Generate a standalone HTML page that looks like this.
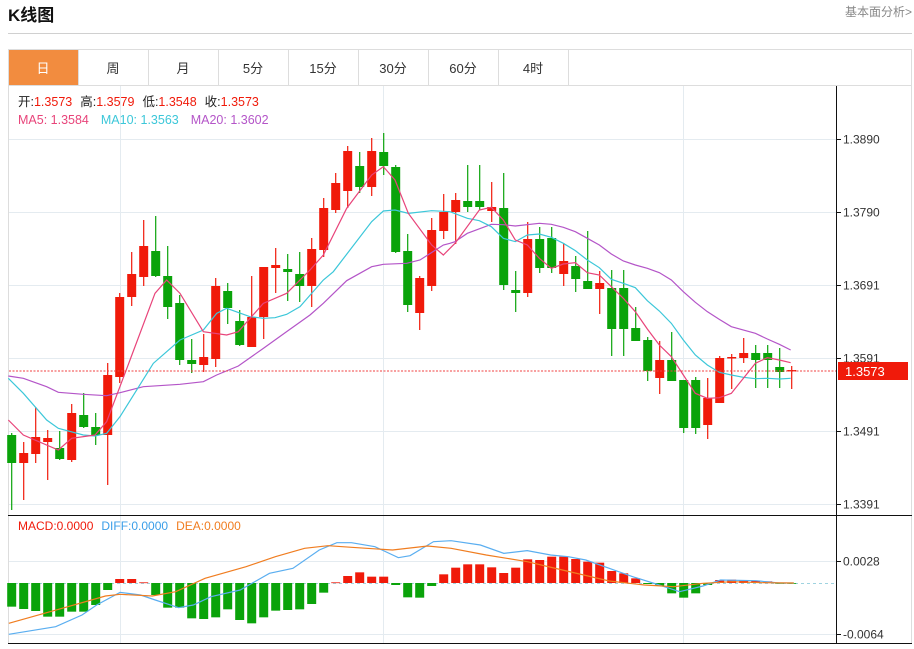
<!DOCTYPE html>
<html><head><meta charset="utf-8"><style>
body{margin:0;background:#fff;width:914px;height:649px;overflow:hidden;font-family:"Liberation Sans","Noto Sans CJK SC",sans-serif;}
svg{position:absolute;left:0;top:0}
</style></head><body>
<svg id="s" width="914" height="649" xmlns="http://www.w3.org/2000/svg" font-family="Liberation Sans, Noto Sans CJK SC, sans-serif">
<text x="8" y="21" font-size="17" font-weight="bold" fill="#111">K线图</text>
<text x="912" y="16" font-size="12" fill="#888" text-anchor="end">基本面分析&gt;</text>
<line x1="8" y1="33.5" x2="912" y2="33.5" stroke="#d0d0d0"/>
<rect x="8.5" y="49.5" width="903" height="36" fill="#fff" stroke="#ddd"/>
<rect x="9" y="50" width="69" height="35" fill="#f28c3f"/>
<g stroke="#ddd"><line x1="78.5" y1="50" x2="78.5" y2="85"/><line x1="148.5" y1="50" x2="148.5" y2="85"/><line x1="218.5" y1="50" x2="218.5" y2="85"/><line x1="288.5" y1="50" x2="288.5" y2="85"/><line x1="358.5" y1="50" x2="358.5" y2="85"/><line x1="428.5" y1="50" x2="428.5" y2="85"/><line x1="498.5" y1="50" x2="498.5" y2="85"/><line x1="568.5" y1="50" x2="568.5" y2="85"/></g>
<g font-size="13" text-anchor="middle" fill="#333"><text x="43" y="73" fill="#fff">日</text><text x="113" y="73">周</text><text x="183" y="73">月</text><text x="253" y="73">5分</text><text x="323" y="73">15分</text><text x="393" y="73">30分</text><text x="463" y="73">60分</text><text x="533" y="73">4时</text></g>
<line x1="8.5" y1="86" x2="8.5" y2="643" stroke="#ddd"/>
<line x1="911.5" y1="86" x2="911.5" y2="643" stroke="#ddd"/>
<g id="grid" stroke="#e4ebf0"></g>
<g id="c"></g>
<line x1="836.5" y1="86" x2="836.5" y2="643" stroke="#111"/>
<line x1="8" y1="515.5" x2="912" y2="515.5" stroke="#111"/>
<line x1="8" y1="643.5" x2="912" y2="643.5" stroke="#111"/>
<g id="ax" font-size="12" fill="#333"></g>
<line x1="9" y1="371" x2="836" y2="371" stroke="#f04040" stroke-dasharray="2,1.5"/>
<rect x="838" y="362" width="70" height="18" fill="#f01a0a"/>
<text x="845" y="376" font-size="13" fill="#fff">1.3573</text>
<g font-size="12.5"><text x="18" y="106"><tspan fill="#222">开:</tspan><tspan fill="#f01a0a">1.3573</tspan><tspan fill="#222" dx="8">高:</tspan><tspan fill="#f01a0a">1.3579</tspan><tspan fill="#222" dx="8">低:</tspan><tspan fill="#f01a0a">1.3548</tspan><tspan fill="#222" dx="8">收:</tspan><tspan fill="#f01a0a">1.3573</tspan></text>
<text x="18" y="124"><tspan fill="#e8447a">MA5: 1.3584</tspan><tspan fill="#3cc7d9" dx="12">MA10: 1.3563</tspan><tspan fill="#b455c8" dx="12">MA20: 1.3602</tspan></text></g>
<text x="18" y="530" font-size="12"><tspan fill="#f01a0a">MACD:0.0000</tspan><tspan fill="#3a9ee8" dx="8">DIFF:0.0000</tspan><tspan fill="#f07d20" dx="8">DEA:0.0000</tspan></text>
</svg>
<script>
const NS="http://www.w3.org/2000/svg";
function el(p,t,a){const e=document.createElementNS(NS,t);for(const k in a)e.setAttribute(k,a[k]);document.getElementById(p).appendChild(e);return e;}
const R="#f01a0a",G="#0aa30a";
// grid
[139,212,285,358,431,504,561,634].forEach(y=>el("grid","line",{x1:9,x2:836,y1:y+.5,y2:y+.5}));
[120,383,683].forEach(x=>{el("grid","line",{x1:x+.5,x2:x+.5,y1:86,y2:515});el("grid","line",{x1:x+.5,x2:x+.5,y1:516,y2:643});});
[[139,"1.3890"],[212,"1.3790"],[285,"1.3691"],[358,"1.3591"],[431,"1.3491"],[504,"1.3391"],[561,"0.0028"],[634,"-0.0064"]].forEach(([y,t])=>{el("ax","line",{x1:836,x2:841,y1:y+.5,y2:y+.5,stroke:"#111"});const e=el("ax","text",{x:843,y:y+4.5});e.textContent=t;});
// candles o,c,h,l
const C=[[435,463,433,510],[463,453,442,500],[454,437,407,463],[442,438,430,480],[448,459,431,460],[460,413,404,462],[415,427,393,428],[427,435,413,445],[435,375,363,485],[377,297,293,383],[297,274,252,306],[277,246,220,286],[251,276,216,277],[276,307,246,319],[303,360,295,365],[360,364,339,373],[365,357,334,372],[359,286,278,367],[291,308,283,324],[321,345,310,346],[347,317,276,347],[317,267,267,339],[268,265,248,293],[269,272,254,301],[274,286,252,302],[286,249,238,307],[250,208,198,257],[210,183,173,213],[191,151,146,208],[166,187,152,193],[187,151,138,196],[152,166,133,175],[167,252,165,253],[251,305,234,312],[313,278,276,330],[286,230,218,291],[231,212,194,239],[212,200,193,244],[201,207,165,212],[201,207,165,210],[211,207,182,222],[208,285,173,290],[290,293,271,312],[293,239,222,297],[239,268,227,273],[238,268,227,273],[274,261,243,286],[266,279,256,292],[281,289,231,289],[289,283,271,314],[288,329,270,356],[288,329,270,356],[328,341,307,341],[340,371,337,381],[378,360,341,394],[360,381,332,381],[380,428,380,433],[380,428,377,434],[425,398,378,439],[403,358,356,403],[358,357,354,389],[358,353,338,363],[353,360,345,388],[353,360,345,388],[367,372,348,388],[371,370,366,389]];
C.forEach((d,i)=>{const x=11.7+12*i,[o,c,h,l]=d,col=c<o?R:G;el("c","line",{x1:x,x2:x,y1:h,y2:l,stroke:col,"stroke-width":1.2});el("c","rect",{x:x-4.5,y:Math.min(o,c),width:9,height:Math.max(1.5,Math.abs(o-c)),fill:col});});
// MACD bars
const M=[290,297,303,320,320,305,305,285,240,207,207,217,255,293,293,325,327,322,298,330,340,322,302,300,298,282,248,217,198,187,200,200,225,262,263,228,193,173,163,163,172,189,173,148,150,140,140,147,155,158,183,190,205,222,228,250,263,250,225,210,209,210,212,214,219,219];
el("c","line",{x1:9,x2:836,y1:583.5,y2:583.5,stroke:"#9fd3e0","stroke-dasharray":"3,3"});
M.forEach((z,i)=>{const x=11.7+12*i,y=510+z/3,col=y<583?R:G;el("c","rect",{x:x-4.5,y:Math.min(y,583),width:9,height:Math.max(0.8,Math.abs(y-583)),fill:col});});
function pl(pts,fn,col){el("c","polyline",{points:pts.map(fn).map(p=>p.join(",")).join(" "),fill:"none",stroke:col,"stroke-width":1.2});}
const z2=p=>[p[0]/3,130+p[1]/3],z3=p=>[450+p[0]/3,130+p[1]/3],z4=p=>[p[0]/1.707,510+p[1]/3];
function two(a,b,col){pl(a.map(z2).concat(b.map(z3)),x=>x,col);}
two([[25,738],[70,745],[140,770],[175,787],[250,793],[320,797],[360,788],[430,770],[540,763],[610,755],[650,735],[715,708],[790,655],[860,605],[930,555],[970,520],[1040,452],[1115,410],[1150,403],[1220,400],[1260,390],[1330,345]],[[0,340],[15,335],[52,310],[124,283],[160,284],[196,288],[268,280],[304,283],[340,292],[376,305],[412,325],[448,345],[484,372],[520,393],[556,405],[592,415],[628,428],[664,450],[700,485],[736,517],[772,545],[808,568],[844,590],[916,610],[952,627],[988,643],[1022,660]],"#b455c8");
two([[25,745],[70,790],[140,870],[175,895],[250,915],[285,918],[320,910],[360,860],[460,700],[540,630],[610,600],[650,550],[680,535],[750,560],[790,565],[825,563],[860,553],[900,530],[970,450],[1000,425],[1115,275],[1150,243],[1185,240],[1225,250],[1295,242]],[[0,245],[52,265],[88,272],[124,290],[160,325],[196,335],[232,315],[268,312],[304,322],[340,340],[376,362],[412,390],[448,413],[484,448],[520,460],[556,473],[592,512],[628,543],[664,580],[700,630],[736,675],[772,705],[808,727],[844,735],[880,742],[916,746],[952,745],[988,747],[1022,745]],"#3cc7d9");
two([[25,870],[70,915],[175,960],[215,925],[285,915],[320,875],[390,690],[465,490],[500,450],[540,490],[610,605],[680,615],[715,605],[790,520],[860,490],[930,420],[970,375],[1040,235],[1115,135],[1150,110],[1185,150],[1225,250],[1295,345],[1330,375]],[[0,355],[15,340],[88,240],[124,232],[160,270],[196,330],[232,345],[268,385],[304,415],[340,402],[376,398],[412,428],[448,435],[484,470],[520,505],[556,545],[592,597],[628,645],[664,680],[700,735],[736,790],[772,805],[808,803],[844,790],[880,745],[916,700],[952,683],[988,690],[1022,698]],"#e8447a");
pl([[15,373],[95,350],[140,315],[165,285],[205,247],[240,255],[265,270],[305,293],[330,285],[360,260],[410,240],[440,210],[460,190],[500,175],[545,120],[575,98],[600,98],[640,110],[680,143],[700,137],[740,95],[770,92],[820,105],[860,130],[900,122],[940,135],[970,140],[1000,150],[1040,175],[1080,200],[1120,222],[1160,245],[1200,228],[1230,210],[1290,212],[1330,219],[1355,219]],z4,"#5aaef0");
pl([[15,340],[100,298],[180,258],[205,253],[260,258],[300,245],[350,205],[420,170],[470,140],[520,115],[560,107],[600,112],[670,120],[730,108],[770,115],[830,135],[900,155],[960,180],[1040,213],[1100,225],[1150,230],[1200,220],[1250,215],[1300,218],[1355,219]],z4,"#f07d20");
</script>
</body></html>
